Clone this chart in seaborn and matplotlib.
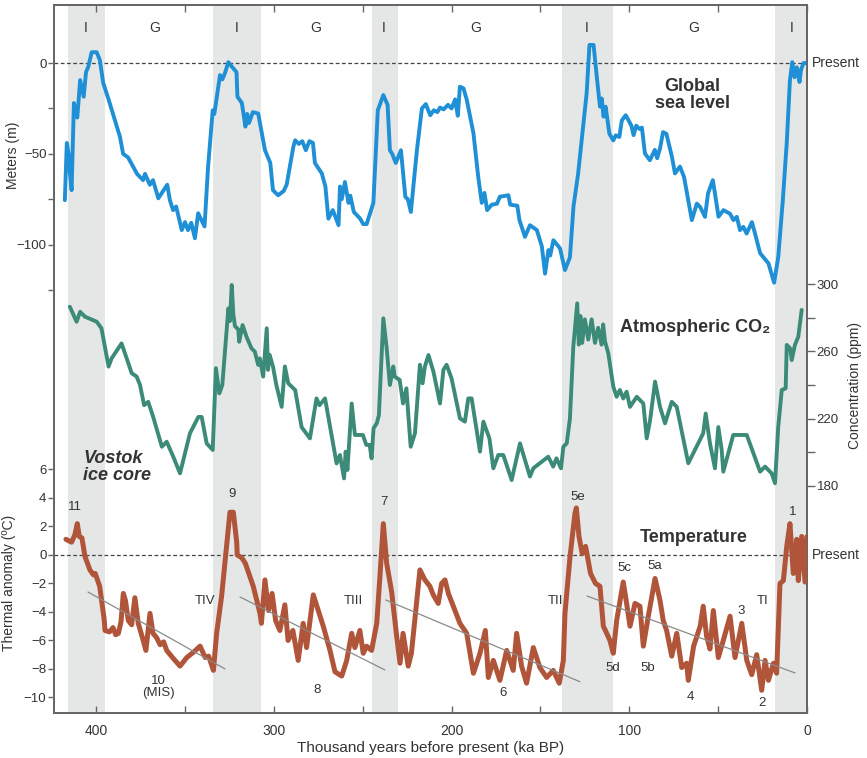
import numpy as np
import pandas as pd
import matplotlib
matplotlib.use("Agg")
import matplotlib.pyplot as plt
import seaborn as sns

# --- data (ka BP) ---
sea_ka = [417.6, 416.5, 415.5, 414.7, 413.8, 412.5, 410.6, 409, 407, 405.7, 404.4, 402.5, 399.7, 397.9,
          396, 393, 386.6, 384.8, 382, 377, 373.6, 372.5, 369.8, 368, 365, 360, 358.5, 356.7, 355,
          351.8, 350, 348.3, 346.5, 344.4, 342.6, 339, 337, 334.4, 333.5, 330.3, 329, 327.5, 325.6,
          324, 321, 320.5, 318, 316, 315, 314, 311.8, 308.8, 305, 302, 300.5, 297.6, 294.5, 292.8,
          289, 288, 286, 284, 282, 280, 278, 276.9, 273, 271, 269.3, 266.8, 263.6, 262.8, 261.8,
          260, 258, 257, 255, 251.5, 249.7, 247.8, 244, 241.5, 238.4, 236, 234.7, 233.4, 231.4,
          228.5, 226, 224.6, 222.9, 219.5, 216.7, 214.5, 212, 210, 208, 206.5, 204.5, 202, 200,
          198, 196.5, 195.3, 193.3, 191.5, 187.7, 185, 183, 181.5, 180, 177.4, 174.5, 172.8, 168,
          167, 163, 161.8, 158.7, 155.9, 152, 149.2, 147.4, 145.5, 144.5, 142.7, 139, 136.2, 133.4,
          131.4, 128.8, 126, 124, 122.4, 120.1, 118.3, 116.5, 115.5, 114.5, 113.3, 111.2, 109,
          107.6, 105.6, 104.2, 102, 98.8, 97.6, 96.1, 94.2, 92.9, 91.2, 88.4, 85.6, 84.3, 82.7, 81,
          79.1, 76, 74.3, 71.5, 69.2, 64.8, 62, 60.1, 57.4, 55.7, 53, 51.8, 49.8, 47, 43.3, 41.4,
          39.5, 37.7, 35.8, 34, 31, 29.3, 26.4, 21.7, 18.5, 16.2, 13.6, 11.4, 9.6, 8.3, 7, 5.7,
          4.2, 3.4, 2, 0]
sea_m = [-75.5, -44, -50, -61, -70, -22, -30, -9.4, -18.5, -5, -2, 6, 6, 1.6,
         -11, -20, -40.6, -50, -52, -61, -64.5, -61, -67, -64.5, -74.5, -67, -75.5, -81, -79,
         -92, -87.6, -92, -88, -96.5, -82.7, -90, -57, -26, -28, -6.6, -9, -5.5, 0.5,
         -1.5, -5, -18.5, -22, -35, -28, -33, -27, -27.8, -48, -55, -70, -72.8, -70.5, -67,
         -46, -42.5, -44.5, -43, -48, -43, -44, -55, -60.8, -68, -85.7, -81, -89.3, -68, -75,
         -65.5, -77, -73, -82, -85.6, -88.7, -88.7, -77, -26, -17.6, -23, -48, -50, -55,
         -48, -73.7, -75, -82, -48, -25, -22.6, -28.7, -26, -27, -24.5, -25.5, -23, -25,
         -20, -29, -13, -13.9, -20, -38.6, -62.7, -77, -71.5, -81, -78, -77.5, -73.6, -72.8,
         -78, -78.6, -86.5, -95.7, -89.3, -92, -101, -116, -103, -106, -97.6, -102, -114, -107,
         -79, -61, -35, -16.7, 10, 10, -7.5, -24, -19.5, -29.5, -24, -38.9, -42.6,
         -39.8, -40.7, -31.6, -28.7, -34.5, -39.7, -34.5, -36.3, -35.5, -49.8, -53.5, -47.8, -52.4, -47, -38,
         -39, -51.6, -60.8, -57, -62.7, -86.5, -77.4, -79.3, -84.7, -71.8, -64.5, -71.8, -84.6, -81, -83, -86.5,
         -84.7, -92, -90.2, -93.9, -87.6, -93.7, -104.7, -110.3, -121, -107, -75.5, -44, -9.4, 0.5, -7.8, -2.3,
         -10.4, -3.8, 0, 0]

co2_ka = [414.8, 411, 409, 406.3, 399.7, 397, 393, 391.3, 385.7, 382.8, 380, 377.2, 375.3, 373, 370.7,
          367.9, 363, 360.3, 356.6, 352.8, 347.2, 342.5, 340.6, 337.8, 334.4, 332.6, 330.7, 329,
          325.6, 324.7, 323.7, 322.8, 321.9, 320, 319.5, 317.6, 315.4, 312.6, 310.7, 308.8, 307.9,
          306, 304, 303.3, 302.4, 300.5, 298.6, 295.6, 293.8, 291.9, 288, 284.4, 279.7, 276, 274.3,
          271.2, 264.7, 262.8, 260.5, 259.6, 258.6, 256.2, 254.4, 249.9, 248, 246.1, 245, 243.9,
          242.1, 240.9, 238.4, 236.6, 234.7, 232.8, 232, 229.2, 227.3, 225.4, 224.4, 223, 220.6,
          217.8, 216.3, 215, 213, 210.2, 206.5, 204.6, 202.8, 200, 195.3, 192.5, 190.6, 188.7, 184,
          182.1, 178.7, 176.5, 173.7, 170.9, 166.2, 161.5, 155.9, 154, 145.6, 142.8, 141, 138.4,
          137.1, 135.2, 133.4, 131.5, 129.3, 128.4, 127.5, 126.5, 125, 123.1, 121.2, 119.3, 117.5,
          115.6, 114.7, 113.7, 111.8, 109, 107.1, 105.3, 103.4, 101.5, 99.6, 95.8, 92.1, 90.2,
          88.3, 85.5, 82.7, 79.9, 76.1, 73.3, 66.8, 58.4, 57, 54.6, 51.8, 49.9, 48, 47.1, 41.5,
          33.9, 26.4, 23.6, 19.9, 18, 16.2, 14.2, 12, 11.4, 9.5, 8.6, 6.8, 4.9, 3]
co2_ppm = [286.5, 277.6, 283.5, 280.6, 277.6, 273.7, 250.9, 255.8, 264.7, 255.8, 247, 245, 240, 228, 230,
           221, 203.3, 206.3, 197.4, 187.5, 211.3, 221, 221, 205.3, 201.4, 250, 235, 240,
           285.5, 278, 299.4, 282, 275, 273, 265.7, 275.6, 268.7, 261.8, 259.8, 251.9, 255.8,
           245, 273.7, 249, 258, 251, 240, 227, 251, 241, 237, 215, 208.3, 232, 228,
           232, 193.4, 198.4, 184.5, 200.4, 189.5, 229, 210.3, 210.3, 204.4, 204.4, 196.4, 214.3,
           217.2, 222, 279.6, 262.7, 240, 251, 245, 243, 229, 238, 223, 203.3, 211.3,
           252, 241, 251, 257.8, 247.9, 229, 249, 252, 243.9, 220.2, 218.2, 232, 232, 200.4,
           218.2, 208.3, 190.5, 198.4, 198.4, 183.5, 205.3, 185.6, 190.5, 197.4, 191.5, 196.4, 190.5,
           203.3, 205.3, 220, 262.8, 288.5, 264, 281, 265, 279, 267, 279, 265, 274,
           264, 276, 266, 258.8, 239, 233, 237, 232, 236, 227, 233, 229, 208.3,
           219, 242, 227, 217.2, 230, 227, 193.5, 211.3, 223, 205.3, 190.5, 215, 201.4, 188.5, 210.3,
           210.3, 188.5, 191.5, 187.5, 181.6, 215, 237, 238, 263.8, 261.8, 254.8, 263.8, 268.7, 284.6]

temp_ka = [417, 415.5, 413.8, 412, 410.6, 409.5, 408, 406.3, 403.5, 401.5, 400.5, 398, 395.5, 395,
           392.5, 390.5, 389, 387.5, 386, 384.7, 383.5, 381.9, 380, 378.2, 376.3, 373.5, 372, 369.7,
           368, 366, 364, 362, 360.3, 357, 352.8, 349, 345, 341.5, 338.6, 336.7, 334, 332.2, 329.4,
           326.6, 324.7, 322.8, 320.9, 320.6, 318, 316, 311.6, 307.8, 307, 305, 303, 301, 299, 296.6,
           293.8, 292, 289.3, 286.3, 283.5, 281.6, 277.8, 275, 272.2, 268.4, 265.6, 261.8, 259,
           256.2, 254.4, 251.6, 249.7, 247.8, 245, 242.1, 240.3, 238.4, 236.5, 233.7, 230.9, 229,
           227.3, 224.4, 222.6, 219.6, 217.8, 215, 212.2, 210.3, 207.5, 205.6, 203.7, 201.8, 199,
           195.3, 191.5, 187.7, 184, 181, 179.3, 176.5, 172.8, 169, 165.3, 163.4, 160.6, 157.8,
           154, 150.3, 146.5, 142.8, 139.4, 137.1, 136.2, 133.4, 130.6, 129.8, 128.3, 126.5, 124.6,
           121.8, 119, 116.5, 114.6, 112.7, 110.9, 109, 107.1, 105.2, 103.4, 101.5, 99.6, 96.8, 94,
           92.1, 89.3, 85.5, 82.7, 80.9, 79, 76.1, 73.3, 70.5, 67.7, 66.8, 63.8, 60.1, 58.4, 56.5,
           54.6, 52.7, 49.9, 47.1, 43.3, 40.5, 36.7, 33.9, 31.1, 28.3, 25.5, 23.6, 21.7, 18.9, 17.1,
           15.2, 13.3, 11.4, 9.6, 7.7, 5.8, 4.9, 3.0, 1.1, 0]
temp_c = [1.1, 1.0, 0.9, 1.4, 2.2, 1.3, 1.2, -0.1, -1.05, -1.4, -1.3, -2.2, -4.5, -5.3,
          -5.4, -5.1, -5.6, -5.5, -4.7, -2.7, -3.2, -4.6, -4.9, -3.0, -4.8, -6.0, -6.7, -4.1,
          -5.5, -5.8, -6.3, -6.1, -6.7, -7.2, -7.8, -7.2, -6.8, -6.4, -7.2, -7.1, -8.1, -5.5, -2.9,
          0.6, 3.0, 3.0, 0.9, 0.0, -0.2, -0.6, -2.2, -4.1, -4.8, -1.75, -3.9, -2.7, -4.6, -5.3,
          -3.5, -6.0, -5.3, -7.4, -4.8, -6.5, -2.8, -3.9, -5.0, -6.7, -8.2, -8.5, -7.4,
          -5.5, -6.5, -5.3, -6.9, -6.4, -6.7, -4.8, -1.5, 2.2, -0.6, -2.6, -5.7, -7.6,
          -5.5, -7.8, -6.9, -3.2, -1.05, -1.75, -2.2, -2.8, -3.4, -2.0, -1.75, -2.7, -3.6,
          -4.8, -5.5, -8.3, -6.9, -5.3, -8.6, -7.4, -8.8, -6.7, -8.1, -5.5, -7.8, -9.0,
          -6.5, -7.9, -8.6, -8.1, -9.0, -7.4, -4.1, -0.2, 2.9, 3.3, 1.3, 0.1, 0.6,
          -1.3, -2.0, -2.2, -5.0, -5.5, -6.0, -6.9, -4.6, -3.2, -1.9, -3.4, -5.0, -3.4, -3.6,
          -6.4, -4.3, -1.65, -3.2, -4.6, -5.3, -7.1, -5.5, -7.9, -7.6, -8.8, -6.4, -5.0, -3.6, -5.7,
          -6.6, -3.9, -7.2, -6.0, -4.3, -7.2, -4.8, -7.4, -8.4, -7.0, -9.5, -7.4, -8.8, -7.6, -8.3,
          -2.0, -1.8, 0.6, 2.2, -1.3, 1.1, -1.8, 1.3, -1.9, 1.3]

# interglacial bands (start, end ka)
band_start = [416, 334, 245, 138, 18]
band_end = [395, 307, 230, 109, 0]
phase_labels = ["I", "G", "I", "G", "I", "G", "I", "G", "I"]
phase_ka = [405.7, 367, 320.8, 276.3, 238, 186.3, 123.8, 63.6, 8.4]

# trend segments on temperature (ka0, T0, ka1, T1)
trend_ka0 = [404.6, 319, 237, 123.8]
trend_t0 = [-2.6, -2.95, -3.16, -2.88]
trend_ka1 = [327.5, 237.5, 127.7, 6.75]
trend_t1 = [-8.0, -8.07, -8.9, -8.28]

# marine isotope stage labels
mis_text = ["11", "9", "7", "5e", "1", "10\n(MIS)", "8", "6", "4", "2", "5c", "5a", "5d", "5b", "3",
            "TIV", "TIII", "TII", "TI"]
mis_ka = [412, 323.6, 238, 128.9, 7.9, 365, 275.7, 171, 65.8, 25.3, 103, 85.5, 109.2, 89.5, 37.1,
          338.8, 255.5, 141.8, 24.8]
mis_t = [3.4, 4.3, 3.7, 4.1, 3.0, -9.3, -9.5, -9.7, -10.0, -10.4, -0.9, -0.8, -7.9, -7.9, -3.9,
         -3.2, -3.2, -3.2, -3.2]

sns.set_theme(style="ticks")
plt.rcParams['font.family'] = ['Liberation Sans', 'DejaVu Sans']

txt = "#333333"
spine_c = "#666666"
blue = "#1f8fd6"
green = "#3c8a78"
brown = "#b0553a"

fig = plt.figure(figsize=(8.67, 7.58), dpi=100)
ax = fig.add_axes([0.0623, 0.0594, 0.8685, 0.934])
ax_c = ax.twinx()
ax_t = ax.twinx()

# shaded interglacials
for s, e in zip(band_start, band_end):
    ax.axvspan(s, e, color="#e5e7e7", lw=0, zorder=0)

sea = pd.DataFrame({"ka": sea_ka, "m": sea_m})
co2 = pd.DataFrame({"ka": co2_ka, "ppm": co2_ppm})
tmp = pd.DataFrame({"ka": temp_ka, "c": temp_c})

sns.lineplot(data=sea, x="ka", y="m", ax=ax, color=blue, lw=2.8, estimator=None, sort=False, zorder=3)
sns.lineplot(data=co2, x="ka", y="ppm", ax=ax_c, color=green, lw=2.8, estimator=None, sort=False, zorder=3)
sns.lineplot(data=tmp, x="ka", y="c", ax=ax_t, color=brown, lw=3.6, estimator=None, sort=False, zorder=3)

ax.axhline(0, color="#444444", ls=(0, (3, 2)), lw=0.9, zorder=2)
ax_t.axhline(0, color="#444444", ls=(0, (3, 2)), lw=0.9, zorder=2)

for a0, t0, a1, t1 in zip(trend_ka0, trend_t0, trend_ka1, trend_t1):
    ax_t.plot([a0, a1], [t0, t1], color="#8a8a8a", lw=0.9, zorder=4)

# limits
ax.set_xlim(423.7, 0)
ax.set_ylim(-358, 32)
ax_c.set_ylim(45.1, 465.8)
ax_t.set_ylim(-11.09, 38.6)

# x ticks
ax.set_xticks([400, 300, 200, 100, 0])
ax.set_xticks([350, 250, 150, 50], minor=True)
ax.tick_params(axis="x", which="both", direction="in", length=5, width=1, color=spine_c,
               top=True, labelsize=10, labelcolor=txt, pad=8)

# left sea level ticks
ax.set_yticks([0, -50, -100])
ax.set_yticks([-25, -75, -125], minor=True)
ax.tick_params(axis="y", which="both", direction="out", length=4, width=1, color=spine_c,
               labelsize=9.5, labelcolor=txt, pad=1.5)
ax.set_ylabel("Meters (m)", fontsize=10, color=txt)
ax.yaxis.set_label_coords(-0.045, 0.788)

# temperature ticks on the left
ax_t.yaxis.tick_left()
ax_t.yaxis.set_label_position("left")
ax_t.set_yticks([6, 4, 2, 0, -2, -4, -6, -8, -10])
ax_t.tick_params(axis="y", direction="out", length=4, width=1, color=spine_c,
                 labelsize=9.5, labelcolor=txt, pad=1.5)
ax_t.set_ylabel("Thermal anomaly (ºC)", fontsize=10, color=txt)
ax_t.yaxis.set_label_coords(-0.05, 0.184)

# CO2 on the right
ax_c.set_yticks([300, 260, 220, 180])
ax_c.set_yticks([280, 240, 200], minor=True)
ax_c.tick_params(axis="y", which="both", direction="out", length=6, width=1, color=spine_c,
                 labelsize=9.5, labelcolor=txt, pad=1)
ax_c.set_ylabel("Concentration (ppm)", fontsize=10, color=txt)
ax_c.yaxis.set_label_coords(1.054, 0.462)

for a in (ax, ax_c, ax_t):
    for sp in a.spines.values():
        sp.set_color(spine_c)
        sp.set_linewidth(1.1)
ax_c.set_xlabel("")
ax_t.set_xlabel("")
ax.set_xlabel("Thousand years before present (ka BP)", fontsize=11, color=txt, labelpad=2)

# phase labels
for lab, k in zip(phase_labels, phase_ka):
    ax.text(k, 19.3, lab, ha="center", va="center", fontsize=10, color=txt)

# series titles
ax.text(64.7, -17.4, "Global\nsea level", ha="center", va="center", fontsize=13,
        fontweight="bold", color=txt, linespacing=1.0)
ax_c.text(63, 273.9, "Atmospheric CO₂", ha="center", va="center", fontsize=13,
          fontweight="bold", color=txt)
ax_t.text(63.6, 1.26, "Temperature", ha="center", va="center", fontsize=13,
          fontweight="bold", color=txt)
ax_t.text(407.3, 6.2, "Vostok\nice core", ha="left", va="center", fontsize=13,
          fontweight="bold", fontstyle="italic", color=txt, linespacing=1.0)

for lab, k, t in zip(mis_text, mis_ka, mis_t):
    ax_t.text(k, t, lab, ha="center", va="center", fontsize=9.5, color=txt, linespacing=1.0,
              zorder=5)

# "Present" markers on the right edge
ax.annotate("Present", xy=(1.006, 0), xycoords=("axes fraction", "data"),
            ha="left", va="center", fontsize=10, color=txt, annotation_clip=False)
ax_t.annotate("Present", xy=(1.006, 0), xycoords=("axes fraction", "data"),
              ha="left", va="center", fontsize=10, color=txt, annotation_clip=False)

fig.savefig("out.png", dpi=100)
